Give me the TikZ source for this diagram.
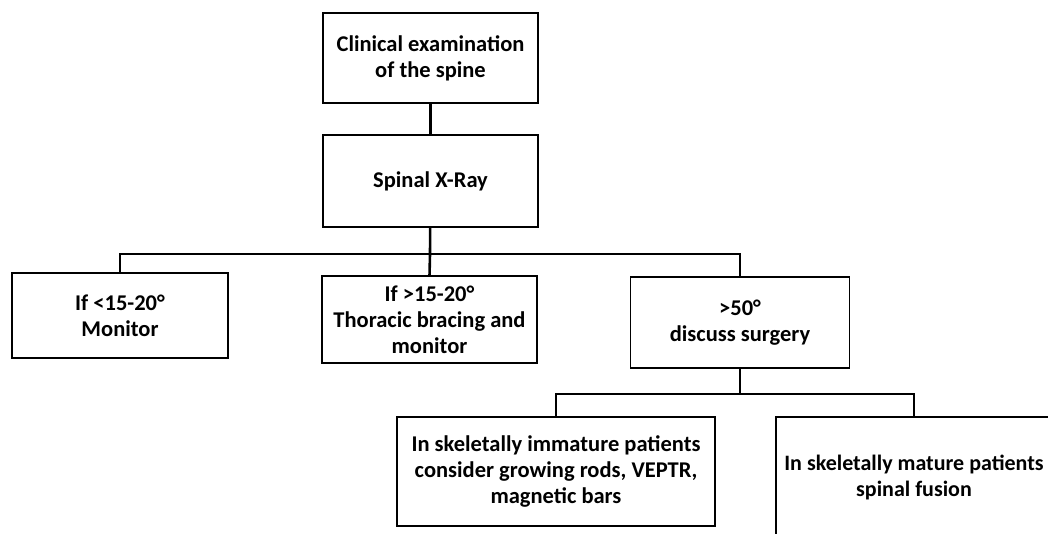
\documentclass[tikz,border=0pt]{standalone}
\usepackage{fontspec}
\setmainfont{Carlito}
\usepackage{tikz}
\tikzstyle{box} = [draw, line width=1.6pt, fill=white, align=center, inner sep=2pt, outer sep=0pt]
\tikzstyle{line} = [draw, line width=2.6pt]
\tikzset{
    every node/.style={font=\fontsize{22.5}{26}\selectfont\bfseries}
}
\begin{document}
\begin{tikzpicture}[x=1pt,y=-1pt]
            \path[use as bounding box, clip] (0,0) rectangle (1048,534);

            % Draw top boxes
            \node[box, minimum width=215pt, minimum height=90pt] (exam) at (430.5,58) {Clinical examination\\of the spine};
            \node[box, minimum width=215pt, minimum height=92pt] (xray) at (430.5,181) {Spinal X-Ray};

            % Draw angle boxes
            \node[box, minimum width=216pt, minimum height=85pt] (less) at (120,315.5) {If <15-20°\\Monitor};
            \node[box, minimum width=215pt, minimum height=87pt] (more) at (429.5,319.5) {If >15-20°\\Thoracic bracing and\\monitor};
            \node[box, minimum width=219pt, minimum height=91pt] (surgery) at (740,322.5) {>50°\\discuss surgery};

            % Draw treatment boxes
            \node[box, minimum width=318pt, minimum height=109pt] (immature) at (556,471.5) {In skeletally immature patients\\consider growing rods, VEPTR,\\magnetic bars};
            \node[box, minimum width=276pt, minimum height=120pt, font=\fontsize{22}{26}\selectfont\bfseries] (mature) at (914,477) {In skeletally mature patients\\spinal fusion};

            % Draw connectors
            \coordinate (split) at (430,254);
            \coordinate (split2) at (740,394);
            \draw[line] (exam) -- (xray);
            \draw[line] (xray) -- (split);
            \draw[line] (less.north) |- (split) -| (surgery.north);
            \draw[line] (split) -- (more.north);
            \draw[line] (surgery) -- (split2);
            \draw[line] (immature.north) |- (split2) -| (mature.north);
        \end{tikzpicture}
\end{document}
